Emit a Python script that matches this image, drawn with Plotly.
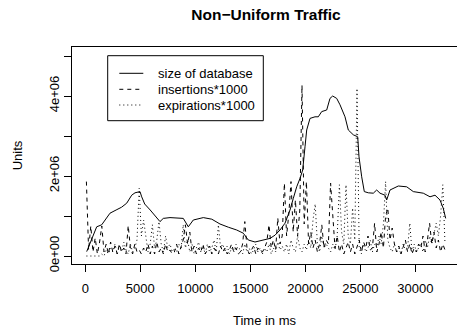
import plotly.graph_objects as go

# ---- data (values in millions of units) ----
time_size = [127, 580, 1036, 1490, 1945, 2245, 2800, 3300, 3764, 4218, 4518, 4973, 5127,
             5400, 5900, 6490, 6790, 7090, 7700, 8910, 9364, 9818, 10727, 11500, 12245,
             13000, 13764, 14364, 14818, 15427, 15882, 16336, 16791, 17245, 17700, 18155,
             18609, 18910, 19218, 19518, 19764, 19973, 20127, 20427, 20882, 21182, 21491,
             21945, 22245, 22491, 22855, 23155, 23609, 23909, 24364, 24764, 24882, 25127,
             25364, 25727, 26182, 26491, 26791, 27245, 27400, 27700, 28000, 28455, 29218,
             29818, 30727, 31336, 31791, 32245, 32545, 32764]
size_db_m = [0.11, 0.40, 0.73, 0.78, 0.94, 1.07, 1.15, 1.22, 1.32, 1.52, 1.58, 1.61, 1.48,
             1.30, 1.15, 0.94, 0.86, 0.94, 0.96, 0.94, 0.73, 0.90, 0.96, 0.92, 0.80,
             0.72, 0.65, 0.57, 0.40, 0.35, 0.38, 0.40, 0.44, 0.52, 0.65, 0.82,
             1.15, 1.44, 1.73, 1.94, 2.15, 2.73, 3.15, 3.44, 3.48, 3.48, 3.61,
             3.65, 3.94, 4.00, 3.94, 3.78, 3.48, 3.15, 3.03, 2.98, 2.48, 1.98,
             1.61, 1.58, 1.57, 1.65, 1.57, 1.52, 1.40, 1.65, 1.69, 1.75, 1.73,
             1.61, 1.57, 1.48, 1.52, 1.40, 1.19, 0.94]

time_rate = list(range(100, 32701, 200))
insertions_m = [
    1.86, 0.15, 0.75, 0.1, 0.45, 0.05, 0.35, 0.75, 0.1, 0.3,
    0.05, 0.35, 0.1, 0.25, 0.05, 0.3, 0.1, 0.2, 0.05, 0.76,
    0.2, 0.05, 0.3, 0.1, 0.15, 0.05, 0.2, 0.1, 0.3, 0.05,
    0.25, 0.05, 0.35, 0.1, 0.2, 0.05, 0.3, 0.1, 0.15, 0.05,
    0.1, 0.3, 0.05, 0.2, 0.4, 0.78, 0.3, 0.6, 0.1, 0.25,
    0.05, 0.2, 0.1, 0.3, 0.05, 0.15, 0.25, 0.05, 0.2, 0.1,
    0.05, 0.25, 0.1, 0.2, 0.05, 0.15, 0.3, 0.1, 0.2, 0.05,
    0.1, 0.3, 0.86, 0.2, 0.05, 0.15, 0.25, 0.05, 0.2, 0.1,
    0.1, 0.2, 0.35, 0.78, 0.2, 0.4, 0.15, 0.95, 0.3, 0.5,
    1.82, 0.5, 1.05, 1.86, 0.6, 1.4, 0.5, 1.15, 4.27, 0.8,
    1.86, 0.3, 0.6, 0.2, 0.4, 0.1, 0.3, 0.78, 0.2, 0.4,
    0.3, 1.82, 0.9, 0.2, 0.5, 0.1, 0.3, 0.05, 0.2, 0.35,
    0.1, 0.3, 0.05, 0.2, 0.4, 0.1, 0.35, 0.2, 0.5, 0.15,
    0.2, 0.82, 0.1, 0.3, 0.6, 0.2, 1.0, 1.2, 0.4, 0.7,
    0.3, 0.1, 0.25, 0.05, 0.2, 0.4, 0.1, 0.3, 0.05, 0.2,
    0.1, 0.3, 0.2, 0.5, 0.1, 0.4, 0.82, 0.3, 0.6, 0.2,
    0.4, 0.1, 0.3, 0.15]
expirations_m = [
    0, 0, 0, 0, 0, 0, 0, 0.05, 0, 0.15,
    0.05, 0.2, 0.1, 0.3, 0.05, 0.25, 0.1, 0.35, 0.15, 0.05,
    0.3, 0.1, 0.2, 0.4, 1.69, 0.5, 0.9, 0.5, 0.1, 0.3,
    0.78, 0.2, 0.4, 0.86, 0.3, 0.1, 0.5, 0.2, 0.3, 0.1,
    0.2, 0.1, 0.3, 0.15, 0.78, 0.2, 0.4, 0.1, 0.3, 0.05,
    0.2, 0.35, 0.1, 0.25, 0.05, 0.3, 0.1, 0.2, 0.4, 0.1,
    0.78, 0.2, 0.3, 0.1, 0.25, 0.05, 0.2, 0.1, 0.3, 0.15,
    0.2, 0.05, 0.3, 0.1, 0.2, 0.05, 0.15, 0.3, 0.1, 0.2,
    0.05, 0.2, 0.1, 0.3, 0.05, 0.2, 0.1, 0.35, 0.15, 0.25,
    0.1, 0.3, 0.05, 0.4, 0.2, 0.1, 0.5, 0.2, 0.1, 0.3,
    0.15, 0.4, 0.2, 0.9, 1.3, 0.3, 0.1, 0.5, 0.2, 0.3,
    0.2, 0.1, 0.3, 0.15, 0.5, 1.78, 0.6, 0.3, 1.78, 0.5,
    0.3, 1.2, 0.4, 4.19, 0.2, 0.05, 0.3, 0.1, 0.2, 0.4,
    0.1, 0.3, 0.2, 0.5, 0.3, 0.8, 1.86, 0.4, 0.2, 0.1,
    0.3, 0.1, 0.2, 0.05, 0.3, 0.15, 0.2, 0.82, 0.1, 0.3,
    0.1, 0.2, 0.3, 0.1, 0.4, 0.2, 0.5, 0.3, 0.6, 0.82,
    0.5, 1.0, 1.78, 0.3]

x_ticks = [0, 5000, 10000, 15000, 20000, 25000, 30000]
x_tick_labels = ["0", "5000", "10000", "15000", "20000", "25000", "30000"]
y_ticks = [0, 1e6, 2e6, 3e6, 4e6, 5e6]
y_tick_labels = ["0e+00", "", "2e+06", "", "4e+06", ""]
legend_labels = ["size of database", "insertions*1000", "expirations*1000"]
legend_dashes = ["solid", "4px,4px", "1px,3px"]

FONT = "Liberation Sans, Arial, sans-serif"
W, H = 457, 330
ML, MR, MT, MB = 72, 0, 47, 66
PW, PH = W - ML - MR, H - MT - MB


def px_x(p):
    return (p - ML) / PW


def px_y(p):
    return (H - MB - p) / PH


fig = go.Figure()
fig.add_trace(go.Scatter(x=time_size, y=[v * 1e6 for v in size_db_m], mode="lines",
                         line=dict(color="black", width=1), showlegend=False))
fig.add_trace(go.Scatter(x=time_rate, y=[v * 1e6 for v in insertions_m], mode="lines",
                         line=dict(color="black", width=1, dash=legend_dashes[1]), showlegend=False))
fig.add_trace(go.Scatter(x=time_rate, y=[v * 1e6 for v in expirations_m], mode="lines",
                         line=dict(color="black", width=1, dash=legend_dashes[2]), showlegend=False))

shapes = [dict(type="rect", xref="paper", yref="paper",
               x0=px_x(107.7), x1=px_x(263.3), y0=px_y(120.7), y1=px_y(55.7),
               line=dict(color="black", width=1), fillcolor="white", layer="above")]
annotations = []
rows = [73.3, 89.3, 105.0]
for lab, dash, ry in zip(legend_labels, legend_dashes, rows):
    shapes.append(dict(type="line", xref="paper", yref="paper",
                       x0=px_x(119.3), x1=px_x(143.3), y0=px_y(ry), y1=px_y(ry),
                       line=dict(color="black", width=1, dash=dash), layer="above"))
    annotations.append(dict(xref="paper", yref="paper", x=px_x(156.0), y=px_y(ry),
                            text=lab, showarrow=False, xanchor="left", yanchor="middle",
                            font=dict(family=FONT, size=13, color="black")))

fig.update_layout(
    width=W, height=H,
    margin=dict(l=ML, r=MR, t=MT, b=MB, pad=0, autoexpand=False),
    plot_bgcolor="white", paper_bgcolor="white",
    font=dict(family=FONT, size=13, color="black"),
    title=dict(text="<b>Non\u2212Uniform Traffic</b>", x=px_x(266), xref="paper", xanchor="center",
               y=1 - 15 / H, yref="container", yanchor="middle",
               font=dict(family=FONT, size=15.5, color="black")),
    xaxis=dict(range=[-1209, (W - 85.3) / 0.011], tickvals=x_ticks, ticktext=x_tick_labels,
               automargin=False,
               showgrid=False, zeroline=False, showline=True, mirror=True, linecolor="black",
               linewidth=1, ticks="outside", ticklen=7, tickcolor="black", tickwidth=1,
               tickfont=dict(size=13), ticklabelstandoff=5,
               title=dict(text="Time in ms", font=dict(size=13), standoff=21)),
    yaxis=dict(range=[-0.2e6, 5.225e6], tickvals=y_ticks, ticktext=y_tick_labels,
               automargin=False,
               showgrid=False, zeroline=False, showline=True, mirror=False, linecolor="black",
               linewidth=1, ticks="outside", ticklen=7, tickcolor="black", tickwidth=1,
               tickangle=-90, tickfont=dict(size=13),
               title=dict(text="Units", font=dict(size=13), standoff=21)),
    shapes=shapes, annotations=annotations,
)
fig.write_html("out.html", config={"displayModeBar": False, "staticPlot": True},
               post_script="document.body.style.margin='0';document.body.style.overflow='hidden';")
